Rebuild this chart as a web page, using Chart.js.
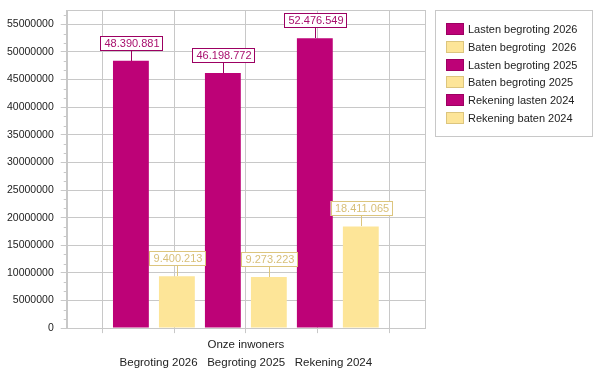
<!DOCTYPE html>
<html>
<head>
<meta charset="utf-8">
<script src="https://cdn.jsdelivr.net/npm/chart.js@4"></script>
<style>
  html, body { margin: 0; padding: 0; background: #fff; }
  #wrap { width: 602px; height: 374px; }
</style>
</head>
<body>
<div id="wrap"><canvas id="chart" width="602" height="374"></canvas></div>
<script>
// data
const category = "Onze inwoners";
const subLabels = ["Begroting 2026", "Begroting 2025", "Rekening 2024"];
const seriesNames = [
    "Lasten begroting 2026",
    "Baten begroting  2026",
    "Lasten begroting 2025",
    "Baten begroting 2025",
    "Rekening lasten 2024",
    "Rekening baten 2024"
];
const seriesValues = [48390881, 9400213, 46198772, 9273223, 52476549, 18411065];
const yTicks = [0, 5000000, 10000000, 15000000, 20000000, 25000000,
    30000000, 35000000, 40000000, 45000000, 50000000, 55000000];
const yMax = 57600000;
const minorPerStep = 3;

const lastenColor = "#bd0277";
const lastenEdge = "#9c0062";
const batenColor = "#fde598";
const batenEdge = "#dcc57e";
const gridColor = "#c8c8c8";
const textColor = "#222222";
const fontFamily = "'Liberation Sans', Arial, sans-serif";

function isLasten(i) { return i % 2 === 0; }

function formatNL(v) {
    return String(v).replace(/\B(?=(\d{3})+(?!\d))/g, ".");
}

const datasets = seriesNames.map((name, i) => ({
    label: name,
    data: [seriesValues[i]],
    xAxisID: "x",
    yAxisID: "y",
    backgroundColor: isLasten(i) ? lastenColor : batenColor,
    borderColor: isLasten(i) ? lastenEdge : batenEdge,
    borderWidth: 0,
    categoryPercentage: 0.77,
    barPercentage: 0.78
}));

// plot frame + small y ticks between the labelled ones
const framePlugin = {
    id: "frame",
    beforeDatasetsDraw(chart) {
        const { ctx, chartArea } = chart;
        const y = chart.scales.y;
        ctx.save();
        ctx.strokeStyle = gridColor;
        ctx.lineWidth = 1;
        ctx.strokeRect(Math.round(chartArea.left) + 0.5, Math.round(chartArea.top) + 0.5,
            Math.round(chartArea.right - chartArea.left), Math.round(chartArea.bottom - chartArea.top));
        const step = yTicks[1] - yTicks[0];
        const minor = step / minorPerStep;
        ctx.beginPath();
        for (let k = 1; k * minor < yMax; k++) {
            if (k % minorPerStep === 0) continue;
            const py = Math.round(y.getPixelForValue(k * minor)) + 0.5;
            ctx.moveTo(chartArea.left - 3, py);
            ctx.lineTo(chartArea.left, py);
        }
        ctx.stroke();
        ctx.restore();
    }
};

// boxed value labels above the bars
const valueLabelPlugin = {
    id: "valueLabels",
    afterDatasetsDraw(chart) {
        const { ctx } = chart;
        ctx.save();
        ctx.font = "11px " + fontFamily;
        ctx.textAlign = "center";
        ctx.textBaseline = "middle";
        chart.data.datasets.forEach((ds, i) => {
            const bar = chart.getDatasetMeta(i).data[0];
            const edge = isLasten(i) ? lastenEdge : batenEdge;
            const txtColor = isLasten(i) ? "#a8106e" : "#d8bf78";
            const text = formatNL(ds.data[0]);
            const w = Math.round(ctx.measureText(text).width) + 7;
            const h = 15;
            const x = Math.round(bar.x);
            const top = Math.round(bar.y) - 10;
            ctx.strokeStyle = edge;
            ctx.lineWidth = 1;
            ctx.beginPath();
            ctx.moveTo(x + 0.5, top);
            ctx.lineTo(x + 0.5, Math.round(bar.y));
            ctx.stroke();
            ctx.fillStyle = "#ffffff";
            ctx.fillRect(x - w / 2, top - h, w, h);
            ctx.strokeRect(Math.round(x - w / 2) + 0.5, top - h + 0.5, w, h - 1);
            ctx.fillStyle = txtColor;
            ctx.fillText(text, x + 1, top - h / 2 + 0.5);
        });
        ctx.restore();
    }
};

// legend in a bordered box right of the plot
const sideLegendPlugin = {
    id: "sideLegend",
    afterDraw(chart) {
        const { ctx } = chart;
        const left = chart.chartArea.right + 10;
        const top = chart.chartArea.top;
        const right = chart.width - 10;
        const rowH = 17.8;
        ctx.save();
        ctx.strokeStyle = gridColor;
        ctx.lineWidth = 1;
        ctx.strokeRect(left + 0.5, Math.round(top) + 0.5, right - left, 126);
        ctx.font = "11px " + fontFamily;
        ctx.textAlign = "left";
        ctx.textBaseline = "middle";
        chart.data.datasets.forEach((ds, i) => {
            const y0 = Math.round(top + 13 + i * rowH);
            ctx.fillStyle = ds.backgroundColor;
            ctx.fillRect(left + 11, y0, 18, 12);
            ctx.strokeStyle = ds.borderColor;
            ctx.strokeRect(left + 11.5, y0 + 0.5, 17, 11);
            ctx.fillStyle = textColor;
            ctx.fillText(ds.label, left + 33, y0 + 6.5);
        });
        ctx.restore();
    }
};

new Chart(document.getElementById("chart"), {
    type: "bar",
    data: {
        labels: [[category, subLabels.join("   ")]],
        datasets: datasets
    },
    options: {
        responsive: false,
        animation: false,
        events: [],
        layout: { padding: { top: 10, right: 177, bottom: -1, left: 0 } },
        scales: {
            x: {
                position: "bottom",
                weight: 1,
                grid: { display: false, drawTicks: false },
                border: { display: false },
                ticks: {
                    color: textColor,
                    padding: 3,
                    font: { family: fontFamily, size: 11.5, lineHeight: 1.56 }
                }
            },
            xg: {
                type: "category",
                labels: ["", "", "", "", ""],
                position: "bottom",
                weight: 0,
                offset: true,
                grid: { offset: false, color: gridColor, tickColor: gridColor, tickLength: 5 },
                border: { display: true, color: gridColor },
                ticks: { display: false }
            },
            y: {
                min: 0,
                max: yMax,
                afterBuildTicks(scale) {
                    scale.ticks = yTicks.map(v => ({ value: v }));
                },
                afterFit(scale) {
                    scale.paddingTop = 0;
                },
                grid: { color: gridColor, tickColor: gridColor, tickLength: 6 },
                border: { display: true, color: gridColor },
                ticks: {
                    color: textColor,
                    padding: 7,
                    autoSkip: false,
                    font: { family: fontFamily, size: 10.5 },
                    callback: v => String(v)
                }
            }
        },
        plugins: {
            tooltip: { enabled: false },
            legend: { display: false }
        }
    },
    plugins: [framePlugin, valueLabelPlugin, sideLegendPlugin]
});
</script>
</body>
</html>
